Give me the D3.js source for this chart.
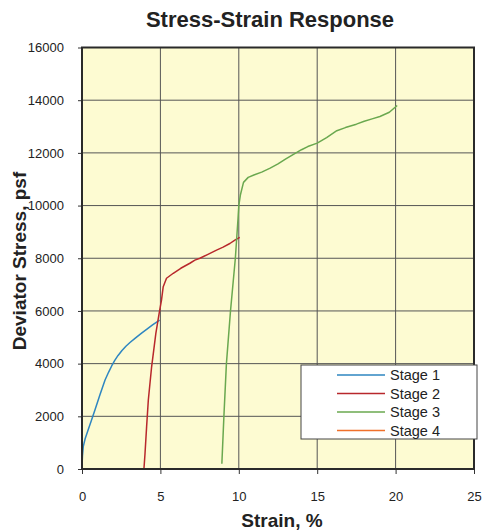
<!DOCTYPE html>
<html>
<head>
<meta charset="utf-8">
<script src="https://cdn.jsdelivr.net/npm/d3@7"></script>
<style>
  body { margin: 0; background: #fff; }
  text { font-family: "Liberation Sans", Arial, sans-serif; fill: #222; }
</style>
</head>
<body>
<div id="chart"></div>
<script>
// data (strain %, deviator stress psf)
const stage1 = [[0, 100], [0.03, 500], [0.08, 850], [0.2, 1150], [0.4, 1500], [0.62, 1880], [0.83, 2250],
                [1.15, 2830], [1.47, 3380], [1.7, 3680], [1.9, 3920], [2.1, 4130], [2.3, 4310], [2.55, 4500],
                [2.8, 4660], [3.06, 4800], [3.4, 4970], [3.8, 5160], [4.12, 5300], [4.5, 5470], [4.95, 5650]];
const stage2 = [[3.95, 0], [4.02, 600], [4.12, 1600], [4.23, 2620], [4.44, 3880], [4.71, 5150], [4.92, 5910],
                [5.07, 6410], [5.18, 6920], [5.39, 7240], [5.82, 7430], [6.3, 7620], [6.88, 7810],
                [7.2, 7930], [7.52, 8000], [8.0, 8140], [8.58, 8310], [9.0, 8420], [9.43, 8560], [9.75, 8690],
                [10.06, 8790]];
const stage3 = [[8.92, 200], [9.05, 2000], [9.21, 4000], [9.47, 6000], [9.78, 8000], [9.95, 9500],
                [10.0, 10000], [10.1, 10400], [10.3, 10880], [10.6, 11070], [11.0, 11170], [11.46, 11270],
                [12.0, 11420], [12.5, 11580], [13.0, 11770], [13.54, 11960], [14.0, 12120], [14.4, 12240],
                [15.0, 12370], [15.6, 12580], [16.25, 12840], [16.8, 12960], [17.5, 13090], [18.0, 13200],
                [18.5, 13290], [19.0, 13380], [19.6, 13540], [20.1, 13800]];
const stage4 = [];
const seriesNames = ["Stage 1", "Stage 2", "Stage 3", "Stage 4"];
const seriesData = [stage1, stage2, stage3, stage4];
const seriesColors = ["#2e86c1", "#b8282c", "#6aa84f", "#f0702a"];
const xTicks = [0, 5, 10, 15, 20, 25];
const yTicks = [0, 2000, 4000, 6000, 8000, 10000, 12000, 14000, 16000];

const W = 482, H = 531;
const margin = ({top: 47.5, right: 8, bottom: 62, left: 82});
const width = W - margin.left - margin.right,
      height = H - margin.top - margin.bottom;

const svg = d3.select("#chart").append("svg")
              .attr("width", W)
              .attr("height", H);
const g = svg.append("g")
             .attr("transform", "translate(" + margin.left + "," + margin.top + ")");

const x = d3.scaleLinear().domain([0, 25]).range([0, width]);
const y = d3.scaleLinear().domain([0, 16000]).range([height, 0]);

// plot background
g.append("rect")
 .attr("width", width)
 .attr("height", height)
 .attr("fill", "#fdfbd2");

// grid
g.selectAll(".vgrid")
 .data(xTicks)
 .enter().append("line")
 .attr("class", "vgrid")
 .attr("x1", d => x(d)).attr("x2", d => x(d))
 .attr("y1", 0).attr("y2", height)
 .attr("stroke", "#555").attr("stroke-width", 1);
g.selectAll(".hgrid")
 .data(yTicks)
 .enter().append("line")
 .attr("class", "hgrid")
 .attr("x1", 0).attr("x2", width)
 .attr("y1", d => y(d)).attr("y2", d => y(d))
 .attr("stroke", "#555").attr("stroke-width", 1);

// axes
const xAxis = g.append("g")
               .attr("transform", "translate(0," + height + ")")
               .call(d3.axisBottom(x).tickValues(xTicks).tickSizeInner(5).tickSizeOuter(0).tickPadding(18));
const yAxis = g.append("g")
               .call(d3.axisLeft(y).tickValues(yTicks).tickFormat(d3.format("d")).tickSizeInner(4).tickSizeOuter(0).tickPadding(14));
[xAxis, yAxis].forEach(a => {
    a.select(".domain").remove();
    a.selectAll("line").attr("stroke", "#333");
    a.selectAll("text").style("font-size", "13px").attr("fill", "#222");
});

// curves
const line = d3.line()
               .x(d => x(d[0]))
               .y(d => y(d[1]));
g.selectAll(".curve")
 .data(seriesData)
 .enter().append("path")
 .attr("class", "curve")
 .attr("d", d => d.length ? line(d) : null)
 .attr("fill", "none")
 .attr("stroke", (d, i) => seriesColors[i])
 .attr("stroke-width", 1.5)
 .attr("stroke-linejoin", "round");

// frame
g.append("rect")
 .attr("width", width)
 .attr("height", height)
 .attr("fill", "none")
 .attr("stroke", "#2a2a2a")
 .attr("stroke-width", 2);

// legend
const legend = svg.append("g")
                  .attr("transform", "translate(301,365)");
legend.append("rect")
      .attr("width", 176)
      .attr("height", 74)
      .attr("fill", "#fff")
      .attr("stroke", "#444")
      .attr("stroke-width", 1);
const items = legend.selectAll(".item")
                    .data(seriesNames)
                    .enter().append("g")
                    .attr("class", "item")
                    .attr("transform", (d, i) => "translate(0," + (10 + i * 18.5) + ")");
items.append("line")
     .attr("x1", 36).attr("x2", 84)
     .attr("stroke", (d, i) => seriesColors[i])
     .attr("stroke-width", 1.5);
items.append("text")
     .attr("x", 89)
     .attr("dy", "0.36em")
     .style("font-size", "14.5px")
     .text(d => d);

// titles
svg.append("text")
   .attr("x", 270).attr("y", 27)
   .attr("text-anchor", "middle")
   .style("font-size", "22px").style("font-weight", "bold")
   .attr("fill", "#333")
   .text("Stress-Strain Response");
svg.append("text")
   .attr("x", 282).attr("y", 527)
   .attr("text-anchor", "middle")
   .style("font-size", "19px").style("font-weight", "bold")
   .text("Strain, %");
svg.append("text")
   .attr("transform", "translate(26,261) rotate(-90)")
   .attr("text-anchor", "middle")
   .style("font-size", "19px").style("font-weight", "bold")
   .text("Deviator Stress, psf");
</script>
</body>
</html>
